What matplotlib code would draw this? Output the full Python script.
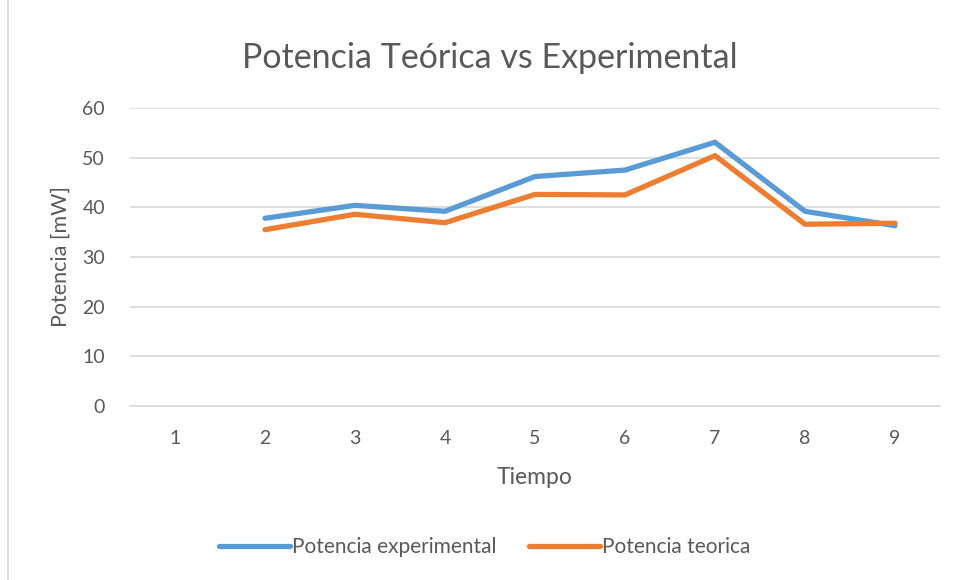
import matplotlib.pyplot as plt
from matplotlib.patches import Rectangle

plt.rcParams['font.family'] = ['Lato', 'DejaVu Sans']

# data
tiempo = [1, 2, 3, 4, 5, 6, 7, 8, 9]
exp_x = [2, 3, 4, 5, 6, 7, 8, 9]
potencia_experimental = [37.8, 40.4, 39.2, 46.2, 47.5, 53.1, 39.2, 36.3]
potencia_teorica = [35.5, 38.6, 36.9, 42.6, 42.5, 50.4, 36.6, 36.8]
yticks = [0, 10, 20, 30, 40, 50, 60]

fig = plt.figure(figsize=(9.58, 5.8), dpi=100)
ax = fig.add_axes([0.1357, 0.30, 0.8455, 0.5138])

ax.plot(exp_x, potencia_experimental, color='#5B9BD5', lw=3.8,
        solid_capstyle='round', solid_joinstyle='miter', label='Potencia experimental', zorder=3)
ax.plot(exp_x, potencia_teorica, color='#ED7D31', lw=3.8,
        solid_capstyle='round', solid_joinstyle='miter', label='Potencia teorica', zorder=3)

ax.set_xlim(0.5, 9.5)
ax.set_ylim(0, 60)
ax.set_xticks(tiempo)
ax.set_yticks(yticks)
ax.tick_params(length=0, labelsize=14, labelcolor='#595959')
ax.tick_params(axis='x', pad=17)
ax.tick_params(axis='y', pad=18)
ax.grid(axis='y', color='#d9d9d9', lw=1.2)
ax.set_axisbelow(True)
for s in ['top', 'right', 'left']:
    ax.spines[s].set_visible(False)
ax.spines['bottom'].set_color('#d9d9d9')
ax.spines['bottom'].set_linewidth(1.2)

ax.set_xlabel('Tiempo', fontsize=16.5, color='#595959', labelpad=15)
ax.set_ylabel('Potencia [mW]', fontsize=15.5, color='#595959', labelpad=8)
fig.text(0.511, 0.9, 'Potencia Teórica vs Experimental', ha='center', va='center',
         fontsize=24.5, color='#595959')

leg = fig.legend(loc='center', bbox_to_anchor=(0.506, 0.057), ncol=2, frameon=False,
                 fontsize=15, handlelength=3.4, columnspacing=1.6, handletextpad=0.1)
for t in leg.get_texts():
    t.set_color('#595959')

fig.patches.append(Rectangle((0.008, -0.01), 1.0, 1.02, transform=fig.transFigure,
                             fill=False, edgecolor='#d9d9d9', lw=1.2))

fig.savefig('out.png', dpi=100)
